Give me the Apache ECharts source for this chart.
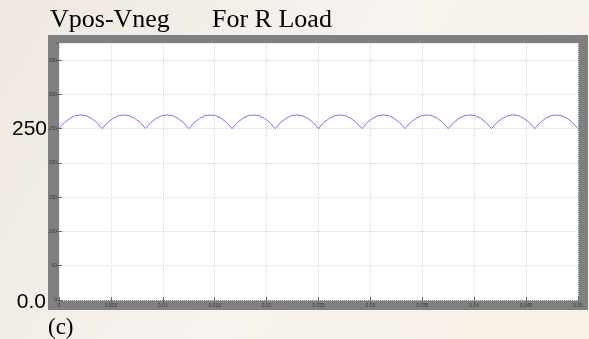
<!DOCTYPE html>
<html>
<head>
<meta charset="utf-8">
<script src="https://cdn.jsdelivr.net/npm/echarts@6/dist/echarts.min.js"></script>
<style>
  html, body { margin: 0; padding: 0; }
  #chart { width: 589px; height: 339px; }
</style>
</head>
<body>
<div id="chart"></div>
<script>
// Vpos-Vneg output voltage, R load, 0 .. 0.05 s
const sampleStep = 0.05 / 96;
const voltage = [
  250, 259, 265, 269, 270, 269, 265, 259,
  250, 259, 265, 269, 270, 269, 265, 259,
  250, 259, 265, 269, 270, 269, 265, 259,
  250, 259, 265, 269, 270, 269, 265, 259,
  250, 259, 265, 269, 270, 269, 265, 259,
  250, 259, 265, 269, 270, 269, 265, 259,
  250, 259, 265, 269, 270, 269, 265, 259,
  250, 259, 265, 269, 270, 269, 265, 259,
  250, 259, 265, 269, 270, 269, 265, 259,
  250, 259, 265, 269, 270, 269, 265, 259,
  250, 259, 265, 269, 270, 269, 265, 259,
  250, 259, 265, 269, 270, 269, 265, 259,
  250
];
const titleLeft = 'Vpos-Vneg';
const titleRight = 'For R Load';
const sideLabelTop = '250';
const sideLabelBottom = '0.0';
const caption = '(c)';

const points = voltage.map((v, i) => [i * sampleStep, v]);

const chart = echarts.init(document.getElementById('chart'));

const tinyLabel = { fontSize: 5, color: '#3a3a3a', fontFamily: 'Liberation Sans' };
const split = { show: true, lineStyle: { color: '#dadada', type: [1, 1], width: 1 } };

chart.setOption({
  animation: false,
  backgroundColor: {
    type: 'linear', x: 0, y: 0, x2: 1, y2: 1,
    colorStops: [
      { offset: 0, color: '#efe8e1' },
      { offset: 0.5, color: '#f7f3ee' },
      { offset: 1, color: '#f8f1e6' }
    ]
  },
  graphic: [
    { type: 'rect', z: -10, shape: { x: 48, y: 35, width: 540, height: 275 }, style: { fill: '#808080' } },
    { type: 'text', left: 50, top: 7, style: { text: titleLeft, font: '26px "Liberation Serif"', fill: '#000' } },
    { type: 'text', left: 212, top: 7, style: { text: titleRight, font: '26px "Liberation Serif"', fill: '#000' } },
    { type: 'text', x: 47, y: 129, style: { text: sideLabelTop, font: '21px "Liberation Sans"', fill: '#000', align: 'right', verticalAlign: 'middle' } },
    { type: 'text', x: 46, y: 302, style: { text: sideLabelBottom, font: '21px "Liberation Sans"', fill: '#000', align: 'right', verticalAlign: 'middle' } },
    { type: 'text', x: 48, y: 316, style: { text: caption, font: '23px "Liberation Serif"', fill: '#000' } }
  ],
  grid: {
    left: 59, right: 11, top: 43, bottom: 39,
    show: true, backgroundColor: '#ffffff', borderWidth: 0
  },
  xAxis: [
    {
      type: 'value', min: 0, max: 0.05, interval: 0.005,
      axisLine: { show: false },
      axisTick: { show: true, inside: true, length: 3, lineStyle: { color: '#666' } },
      axisLabel: Object.assign({ margin: 3 }, tinyLabel),
      splitLine: split
    },
    {
      type: 'value', position: 'top', min: 0, max: 0.05, interval: 0.005,
      axisLine: { show: false },
      axisTick: { show: true, inside: true, length: 3, lineStyle: { color: '#666' } },
      axisLabel: { show: false }, splitLine: { show: false }
    }
  ],
  yAxis: [
    {
      type: 'value', min: 0, max: 375, interval: 50,
      axisLine: { show: false },
      axisTick: { show: true, inside: true, length: 3, lineStyle: { color: '#666' } },
      axisLabel: Object.assign({ margin: 2, showMaxLabel: false }, tinyLabel),
      splitLine: split
    },
    {
      type: 'value', position: 'right', min: 0, max: 375, interval: 50,
      axisLine: { show: false },
      axisTick: { show: true, inside: true, length: 3, lineStyle: { color: '#666' } },
      axisLabel: { show: false }, splitLine: { show: false }
    }
  ],
  series: [{
    type: 'line',
    data: points,
    showSymbol: false,
    smooth: false,
    lineStyle: { color: '#7373ff', width: 1 }
  }]
});
</script>
</body>
</html>
